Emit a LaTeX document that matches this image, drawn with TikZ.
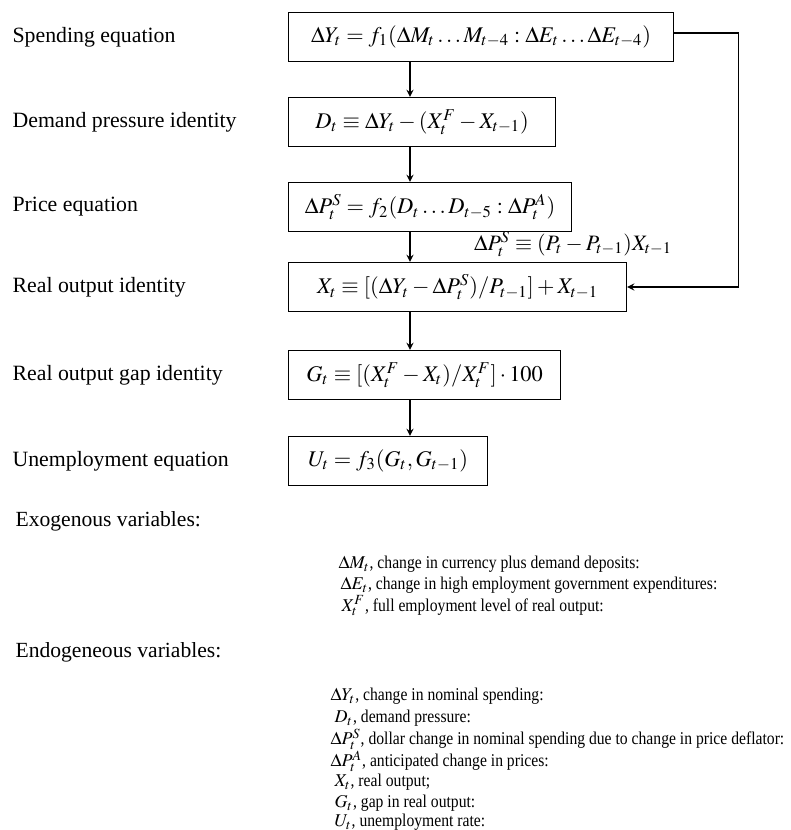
\documentclass[tikz,border=0pt]{standalone}
\usepackage{mathptmx}
\usepackage{fontspec}
\setmainfont{Liberation Serif}
\newfontfamily\listfont{Liberation Serif}[FakeStretch=0.87]

\begin{document}
\begin{tikzpicture}[x=0.5pt,y=-0.5pt,>=stealth,line width=0.6pt,
  eqbox/.style={draw, anchor=west, minimum height=24.5pt, inner sep=2pt, font=\fontsize{11.2}{13}\selectfont},
  rowlbl/.style={anchor=west, inner sep=0pt, font=\fontsize{10.9}{12}\selectfont},
  headlbl/.style={anchor=west, inner sep=0pt, font=\fontsize{10.8}{12}\selectfont},
  varlbl/.style={anchor=west, inner sep=0pt, font=\listfont\fontsize{9}{10}\selectfont}]
  \useasboundingbox (0,0) rectangle (791,830);
  % equation boxes
  \node[eqbox, minimum width=192.5pt] (b1) at (288,37)
    {$\Delta Y_t = f_1(\Delta M_t \ldots M_{t-4} : \Delta E_t \ldots \Delta E_{t-4})$};
  \node[eqbox, minimum width=133.5pt] (b2) at (288,122)
    {$D_t \equiv \Delta Y_t - (X_t^F - X_{t-1})$};
  \node[eqbox, minimum width=141.5pt] (b3) at (288,207)
    {$\Delta P_t^S = f_2(D_t \ldots D_{t-5} : \Delta P_t^A)$};
  \node[eqbox, minimum width=169pt] (b4) at (288,287)
    {$X_t \equiv [(\Delta Y_t - \Delta P_t^S)/P_{t-1}] + X_{t-1}$};
  \node[eqbox, minimum width=136pt] (b5) at (288,375)
    {$G_t \equiv [(X_t^F - X_t)/X_t^F] \cdot 100$};
  \node[eqbox, minimum width=99.5pt] (b6) at (288,461)
    {$U_t = f_3(G_t, G_{t-1})$};
  % row labels
  \coordinate (lx) at (12,0);
  \foreach \t [count=\i] in {Spending equation, Demand pressure identity,
      Price equation, Real output identity, Real output gap identity,
      Unemployment equation}
    \node[rowlbl] (lbl\i) at (lx |- b\i) {\t};
  % flow arrows
  \coordinate (ax) at (410,0);
  \foreach \a/\b in {b1/b2, b2/b3, b3/b4, b4/b5, b5/b6}
    \path[draw,->] (\a.south -| ax) -- (\b.north -| ax);
  \path[draw,->] ([yshift=2pt]b1.east) -- ++(64,0) |- (b4.east);
  \node[font=\fontsize{11}{13}\selectfont] (dPs) at (573,244)
    {$\Delta P_t^S \equiv (P_t - P_{t-1})X_{t-1}$};
  % variable lists
  \node[headlbl] (exo) at (15,521) {Exogenous variables:};
  \foreach \x/\y/\t [count=\i] in {
      338/564/{$\Delta M_t$, change in currency plus demand deposits:},
      340/585/{$\Delta E_t$, change in high employment government expenditures:},
      341/606/{$X_t^F$, full employment level of real output:}}
    \node[varlbl] (ex\i) at (\x,\y) {\t};
  \node[headlbl] (endo) at (15,652) {Endogeneous variables:};
  \foreach \x/\y/\t [count=\i] in {
      330/696/{$\Delta Y_t$, change in nominal spending:},
      334/718/{$D_t$, demand pressure:},
      330/739/{$\Delta P_t^S$, dollar change in nominal spending due to change in price deflator:},
      330/761/{$\Delta P_t^A$, anticipated change in prices:},
      334/782/{$X_t$, real output;},
      334/803/{$G_t$, gap in real output:},
      334/822/{$U_t$, unemployment rate:}}
    \node[varlbl] (en\i) at (\x,\y) {\t};
\end{tikzpicture}
\end{document}
